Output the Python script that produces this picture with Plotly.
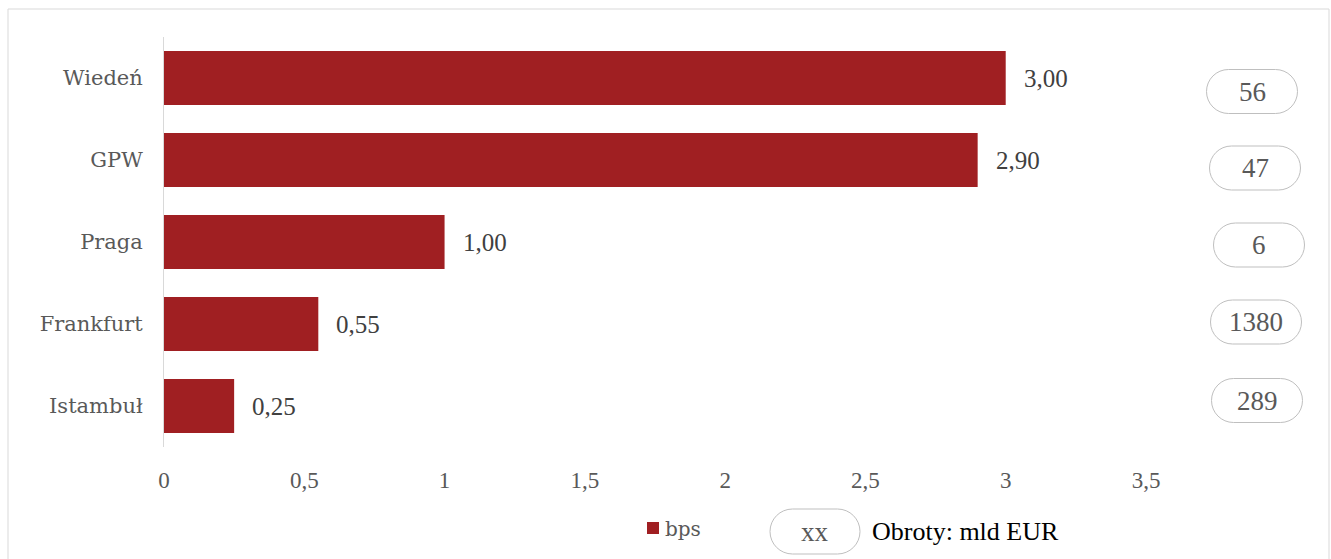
import plotly.graph_objects as go

categories = ["Wiedeń", "GPW", "Praga", "Frankfurt", "Istambuł"]
bps = [3.00, 2.90, 1.00, 0.55, 0.25]
turnover = [56, 47, 6, 1380, 289]
series_name = "bps"
turnover_label = "Obroty: mld EUR"
x_ticks = [0, 0.5, 1, 1.5, 2, 2.5, 3, 3.5]

# layout (pixels)
W, H = 1331, 559
L, R, T, B = 164, 185, 37, 112
PW, PH = W - L - R, H - T - B
BAR = "#A01F22"
GRAY = "#595959"
FONT_CAT = "'DejaVu Serif', serif"
FONT = "'Liberation Serif', 'Times New Roman', serif"

def px_x(px):
    return (px - L) / PW

def px_y(py):
    return (H - B - py) / PH

def pill_path(w, h, dy=0.0, dx=0.0):
    r = h / 2.0
    k = 0.5523 * r
    x0, x1 = -w / 2 + r + dx, w / 2 - r + dx
    yt, yb = r + dy, -r + dy
    return (f"M{x0},{yb} L{x1},{yb} "
            f"C{x1 + k},{yb} {x1 + r},{dy - k} {x1 + r},{dy} "
            f"C{x1 + r},{dy + k} {x1 + k},{yt} {x1},{yt} "
            f"L{x0},{yt} "
            f"C{x0 - k},{yt} {x0 - r},{dy + k} {x0 - r},{dy} "
            f"C{x0 - r},{dy - k} {x0 - k},{yb} {x0},{yb} Z")

fig = go.Figure()
fig.add_trace(go.Bar(
    x=bps, y=categories, orientation="h", width=0.66,
    marker=dict(color=BAR, line=dict(width=0)),
    name=series_name, showlegend=False, hoverinfo="skip",
))

annotations = []
shapes = []

# data labels
for c, v in zip(categories, bps):
    annotations.append(dict(
        x=v, y=c, xref="x", yref="y", text=f"{v:.2f}".replace(".", ","),
        showarrow=False, xanchor="left", yanchor="middle", xshift=16,
        font=dict(family=FONT, size=25, color="#404040"),
    ))

# turnover pills (manually placed boxes in original)
pill_dy = [-13.5, -8, -3, 2, 5.5]    # pixel offset downward from bar centre
pill_cx = [1252, 1255, 1259, 1256, 1257]
for i, (c, t) in enumerate(zip(categories, turnover)):
    shapes.append(dict(
        type="path", xref="paper", yref="y", xsizemode="pixel", ysizemode="pixel",
        xanchor=px_x(pill_cx[i]), yanchor=i,
        path=pill_path(91, 44, dy=pill_dy[i]),
        line=dict(color="#BFBFBF", width=1), fillcolor="rgba(0,0,0,0)",
    ))
    annotations.append(dict(
        x=px_x(pill_cx[i]), y=c, xref="paper", yref="y", text=str(t),
        showarrow=False, xanchor="center", yanchor="middle", yshift=pill_dy[i],
        font=dict(family=FONT, size=27, color=GRAY),
    ))

# outer chart border
shapes.append(dict(
    type="rect", xref="paper", yref="paper",
    x0=px_x(8), x1=px_x(1329), y0=px_y(566), y1=px_y(9),
    line=dict(color="#D9D9D9", width=1), fillcolor="rgba(0,0,0,0)", layer="below",
))

# custom legend
shapes.append(dict(
    type="rect", xref="paper", yref="paper",
    x0=px_x(647), x1=px_x(659), y0=px_y(534), y1=px_y(522),
    line=dict(width=0), fillcolor=BAR,
))
annotations.append(dict(
    x=px_x(663), y=px_y(529), xref="paper", yref="paper", text=series_name,
    showarrow=False, xanchor="left", yanchor="middle",
    font=dict(family=FONT_CAT, size=20, color=GRAY),
))
shapes.append(dict(
    type="path", xref="paper", yref="paper", xsizemode="pixel", ysizemode="pixel",
    xanchor=px_x(815), yanchor=px_y(531.5),
    path=pill_path(90, 45),
    line=dict(color="#BFBFBF", width=1), fillcolor="rgba(0,0,0,0)",
))
annotations.append(dict(
    x=px_x(815), y=px_y(531.5), xref="paper", yref="paper", text="xx",
    showarrow=False, xanchor="center", yanchor="middle",
    font=dict(family=FONT, size=27, color=GRAY),
))
annotations.append(dict(
    x=px_x(870), y=px_y(531), xref="paper", yref="paper", text=turnover_label,
    showarrow=False, xanchor="left", yanchor="middle",
    font=dict(family=FONT, size=26, color="#000000"),
))

fig.update_layout(
    width=W, height=H,
    margin=dict(l=L, r=R, t=T, b=B, pad=0),
    paper_bgcolor="white", plot_bgcolor="white",
    separators=", ",
    showlegend=False,
    font=dict(family=FONT, color=GRAY),
    annotations=annotations, shapes=shapes,
    bargap=0.34,
)
fig.update_xaxes(
    range=[0, 3.5], tickvals=x_ticks, showgrid=False, zeroline=False,
    showline=False, ticks="outside", ticklen=12, tickcolor="rgba(0,0,0,0)",
    tickfont=dict(family=FONT, size=23, color=GRAY),
)
fig.update_yaxes(
    categoryorder="array", categoryarray=categories, autorange="reversed",
    showgrid=False, zeroline=False, showline=True, linecolor="#D9D9D9", linewidth=1,
    ticks="outside", ticklen=16, tickcolor="rgba(0,0,0,0)",
    tickfont=dict(family=FONT_CAT, size=21, color=GRAY),
)

fig.write_html("out.html")
